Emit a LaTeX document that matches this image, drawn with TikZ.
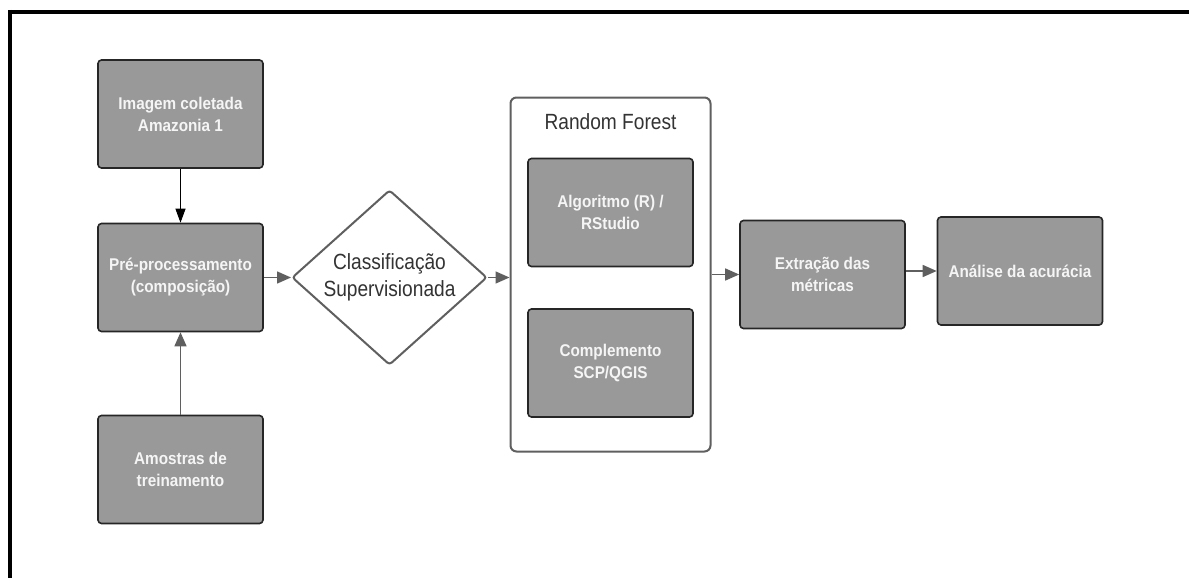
\documentclass[tikz,border=0pt]{standalone}
\usepackage{fontspec}
\setmainfont{Liberation Sans}
\newfontfamily\cond[FakeStretch=0.9]{Liberation Sans}
\newfontfamily\condr[FakeStretch=0.87]{Liberation Sans}
\usetikzlibrary{shapes.geometric,arrows.meta}
\definecolor{boxfill}{HTML}{999999}
\definecolor{boxline}{HTML}{262626}
\definecolor{conline}{HTML}{5F5F5F}
\definecolor{txtdark}{HTML}{333333}
\tikzset{
  procbox/.style={draw=boxline, line width=1.6pt, fill=boxfill, rounded corners=3.5pt,
    minimum width=165pt, minimum height=108pt, inner sep=0pt, align=center,
    text=white!96!black, font=\cond\fontsize{17}{22}\selectfont\bfseries},
  decision/.style={diamond, draw=conline, line width=2pt, fill=white, rounded corners=3pt,
    aspect=1.114, minimum width=195pt, minimum height=175pt, inner sep=0pt,
    align=center, text=txtdark, font=\condr\fontsize{22}{27}\selectfont},
  container/.style={draw=conline, line width=2pt, fill=white, rounded corners=6pt,
    minimum width=200pt, minimum height=354pt, inner sep=0pt},
  greyarrow/.style={draw=conline, line width=1.5pt, -{Triangle[length=14pt,width=12pt]}},
  blackarrow/.style={draw=black, line width=1pt, -{Triangle[length=14pt,width=10pt]}},
  title/.style={text=txtdark, font=\condr\fontsize{22}{26}\selectfont, inner sep=0pt},
  frameline/.style={draw=black, line width=4pt}
}
\begin{document}
\begin{tikzpicture}[x=1pt,y=-1pt]
\useasboundingbox (0,0) rectangle (1189,578);
\coordinate (fa) at (8,12);
\coordinate (fb) at (1189,12);
\coordinate (fc) at (10,10);
\coordinate (fd) at (10,578);
\draw[frameline] (fa) -- (fb);
\draw[frameline] (fc) -- (fd);

\node[procbox] (img) at (180.5,114) {Imagem coletada\\Amazonia 1};
\node[procbox] (pre) at (180.5,277.5) {Pré-processamento\\(composição)};
\node[procbox] (amo) at (180.5,469.5) {Amostras de\\treinamento};
\node[decision] (cls) at (389.5,277.5) {Classificação\\Supervisionada};
\node[container] (rf) at (610.5,274.5) {};
\node[title] (rft) at (610.5,122) {Random Forest};
\node[procbox] (alg) at (610.5,212.5) {Algoritmo (R) /\\RStudio};
\node[procbox] (cmp) at (610.5,363) {Complemento\\SCP/QGIS};
\node[procbox] (ext) at (822.5,274.5) {Extração das\\métricas};
\node[procbox] (ana) at (1020,271) {Análise da acurácia};

\draw[blackarrow] (img) -- (pre);
\draw[greyarrow] (amo) -- (pre);
\draw[greyarrow] (pre) -- (cls);
\draw[greyarrow] (cls.east) -- (cls.east -| rf.west);
\draw[greyarrow] (rf.east |- ext.west) -- (ext.west);
\draw[greyarrow] (ext.east |- ana.west) -- (ana.west);
\end{tikzpicture}
\end{document}
